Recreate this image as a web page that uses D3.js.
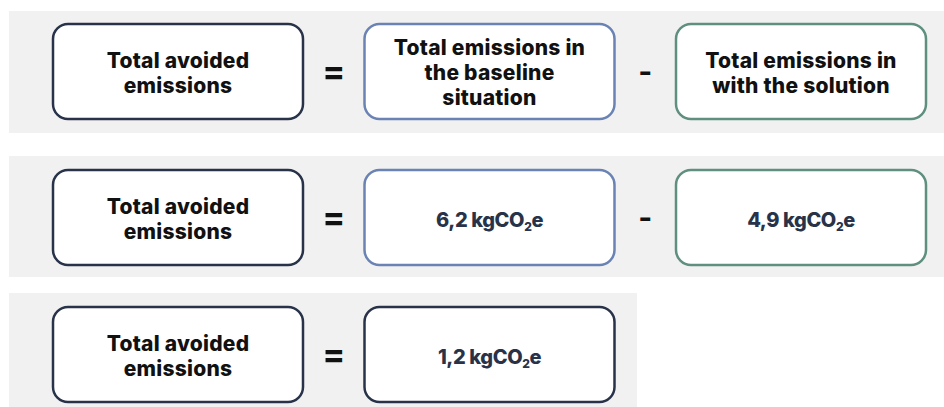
<!DOCTYPE html>
<html><head><meta charset="utf-8">
<script src="https://cdn.jsdelivr.net/npm/d3@7"></script>
<style>html,body{margin:0;padding:0;background:#fff;}svg{display:block;}</style>
</head><body>
<svg id="c" width="944" height="407"></svg>
<script>
// ---- data ----
const termLabels = [
  ["Total avoided", "emissions"],
  ["Total emissions in", "the baseline", "situation"],
  ["Total emissions in", "with the solution"]
];
const baselineValue = 6.2;
const solutionValue = 4.9;
const avoidedValue = 1.2;
const unitMain = "kgCO";
const unitSub = "2";
const unitTail = "e";
const operators = ["=", "-"];
const rows = [
  {kind: "labels", cells: [0, 1, 2]},
  {kind: "values", cells: [0, 1, 2]},
  {kind: "result", cells: [0, 1]}
];

// ---- layout ----
const svg = d3.select("#c");
const colX = d3.scaleLinear().domain([0, 1]).range([53, 364.5]);
const boxW = 250, boxH = 95;
const rowBoxY = [24, 170, 307];
const panelY = [[11, 133], [156, 277], [293, 407]];
const panelRight = [944, 944, 637];
const strokeCols = ["#28334a", "#6a83b4", "#5e8f7f"];
const fmt = v => d3.format(".1f")(v).replace(".", ",");
const valueTexts = [avoidedValue, baselineValue, solutionValue];
const font = "Inter, 'Noto Sans', sans-serif";

rows.forEach((row, ri) => {
  svg.append("rect")
    .attr("x", 9).attr("y", panelY[ri][0])
    .attr("width", panelRight[ri] - 9)
    .attr("height", panelY[ri][1] - panelY[ri][0])
    .attr("fill", "#f1f1f1");

  const y0 = rowBoxY[ri];
  const cy = y0 + boxH / 2;

  row.cells.forEach((ci, k) => {
    const x0 = colX(k);
    let color = strokeCols[ci];
    if (row.kind === "result" && k === 1) color = strokeCols[0];
    svg.append("rect")
      .attr("x", x0).attr("y", y0)
      .attr("width", boxW).attr("height", boxH)
      .attr("rx", 15).attr("ry", 15)
      .attr("fill", "#fff")
      .attr("stroke", color).attr("stroke-width", 2.5);

    const cx = x0 + boxW / 2;
    const isLabel = row.kind === "labels" || k === 0;
    if (isLabel) {
      const lines = termLabels[ci];
      const lh = 25;
      const t = svg.append("text")
        .attr("text-anchor", "middle")
        .attr("font-family", font).attr("font-weight", 800)
        .attr("font-size", 21).attr("letter-spacing", 0.25)
        .attr("fill", "#111");
      lines.forEach((ln, i) => {
        t.append("tspan").attr("x", cx)
          .attr("y", cy + (i - (lines.length - 1) / 2) * lh + 8.5)
          .text(ln);
      });
    } else {
      const v = row.kind === "result" ? avoidedValue : valueTexts[ci];
      const t = svg.append("text")
        .attr("x", cx).attr("y", cy + 9)
        .attr("text-anchor", "middle")
        .attr("font-family", font).attr("font-weight", 800)
        .attr("font-size", 20).attr("letter-spacing", -0.4)
        .attr("fill", "#28334a");
      t.append("tspan").text(fmt(v) + " " + unitMain);
      t.append("tspan").attr("font-size", 12).attr("dy", 4).text(unitSub);
      t.append("tspan").attr("dy", -4).text(unitTail);
    }
  });

  // operators
  const nOps = row.cells.length - 1;
  for (let k = 0; k < nOps; k++) {
    const ox = (colX(k) + boxW + colX(k + 1)) / 2;
    svg.append("text")
      .attr("x", ox).attr("y", cy + (k === 0 ? 11 : 10))
      .attr("text-anchor", "middle")
      .attr("font-family", font).attr("font-weight", 700)
      .attr("font-size", k === 0 ? 34 : 30).attr("fill", "#111")
      .text(operators[k]);
  }
});
</script>
</body></html>
